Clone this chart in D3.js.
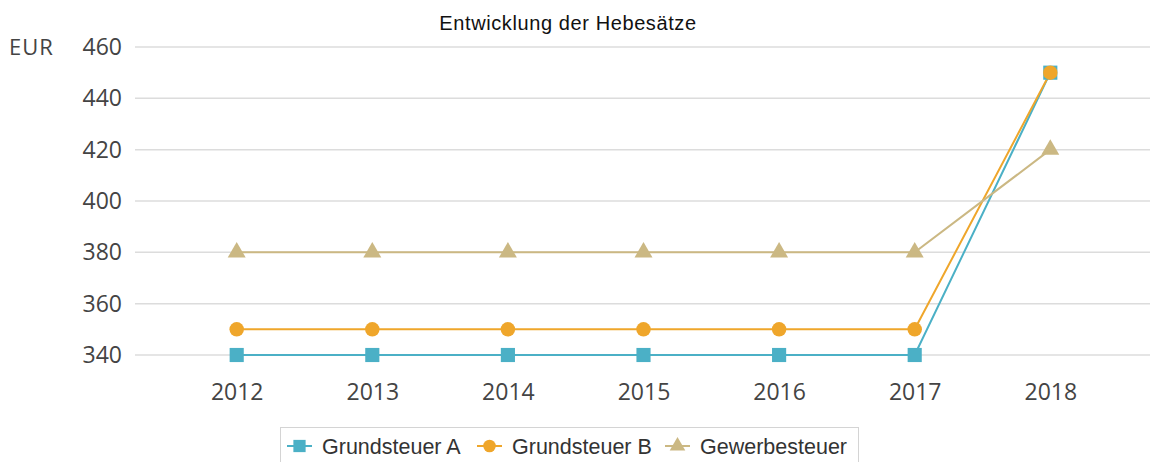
<!DOCTYPE html>
<html>
<head>
<meta charset="utf-8">
<script src="https://cdn.jsdelivr.net/npm/d3@7"></script>
<style>
  body { margin: 0; background: #fff; }
</style>
</head>
<body>
<script>
var years = ["2012", "2013", "2014", "2015", "2016", "2017", "2018"];
var grundsteuerA = [340, 340, 340, 340, 340, 340, 450];
var grundsteuerB = [350, 350, 350, 350, 350, 350, 450];
var gewerbesteuer = [380, 380, 380, 380, 380, 380, 420];
var yTicks = [340, 360, 380, 400, 420, 440, 460];

var width = 1152, height = 462;

var series = [
  {name: "Grundsteuer A", values: grundsteuerA, color: "#4BB0C6", symbol: d3.symbolSquare, size: 200},
  {name: "Grundsteuer B", values: grundsteuerB, color: "#EFA62B", symbol: d3.symbolCircle, size: 165},
  {name: "Gewerbesteuer", values: gewerbesteuer, color: "#CBB883", symbol: d3.symbolTriangle, size: 140}
];

var svg = d3.select("body").append("svg").attr("width", width).attr("height", height);

var x = d3.scalePoint().domain(years).range([135, 1152]).padding(0.75);
var y = d3.scaleLinear().domain([340, 460]).range([355, 47]);

// title
svg.append("text")
  .attr("x", 568).attr("y", 30)
  .attr("text-anchor", "middle")
  .style("font-family", "Liberation Sans, Arial, sans-serif")
  .style("font-size", "20px")
  .style("letter-spacing", "0.6px")
  .style("fill", "#111")
  .text("Entwicklung der Hebesätze");

// grid
svg.append("g").selectAll("line").data(yTicks).enter().append("line")
  .attr("x1", 135).attr("x2", 1150)
  .attr("y1", function(d) { return y(d); })
  .attr("y2", function(d) { return y(d); })
  .style("stroke", "#dcdcdc")
  .style("stroke-width", 1.5);

var yAxis = svg.append("g").attr("transform", "translate(122,0)")
  .call(d3.axisLeft(y).tickValues(yTicks).tickSize(0).tickPadding(0));
yAxis.select(".domain").remove();
yAxis.selectAll("text")
  .style("font-family", "Open Sans, sans-serif")
  .style("font-size", "23px")
  .style("fill", "#444");

var xAxis = svg.append("g").attr("transform", "translate(0,384)")
  .call(d3.axisBottom(x).tickSize(0).tickPadding(0));
xAxis.select(".domain").remove();
xAxis.selectAll("text")
  .style("font-family", "Open Sans, sans-serif")
  .style("font-size", "23px")
  .style("fill", "#444");

svg.append("text")
  .attr("x", 9).attr("y", 55)
  .style("font-family", "Open Sans, sans-serif")
  .style("font-size", "22px")
  .style("letter-spacing", "1px")
  .style("fill", "#444")
  .text("EUR");

var line = d3.line()
  .x(function(d, i) { return x(years[i]); })
  .y(function(d) { return y(d); });

series.forEach(function(s) {
  svg.append("path")
    .datum(s.values)
    .attr("d", line)
    .style("fill", "none")
    .style("stroke", s.color)
    .style("stroke-width", 2);
});

series.forEach(function(s) {
  svg.append("g").selectAll("path").data(s.values).enter().append("path")
    .attr("transform", function(d, i) { return "translate(" + x(years[i]) + "," + y(d) + ")"; })
    .attr("d", d3.symbol().type(s.symbol).size(s.size))
    .style("fill", s.color);
});

// legend
var legend = svg.append("g");
legend.append("rect")
  .attr("x", 280.5).attr("y", 427.5)
  .attr("width", 578).attr("height", 40)
  .style("fill", "#fff")
  .style("stroke", "#d4d4d4");

var legendX = [287, 477, 665];
series.forEach(function(s, i) {
  var g = legend.append("g").attr("transform", "translate(" + legendX[i] + ",446)");
  g.append("line").attr("x1", 0).attr("x2", 25)
    .style("stroke", s.color).style("stroke-width", 2);
  g.append("path").attr("transform", "translate(12.5,0)")
    .attr("d", d3.symbol().type(s.symbol).size(s.size * 0.75))
    .style("fill", s.color);
  g.append("text").attr("x", 35).attr("y", 7.5)
    .style("font-family", "Liberation Sans, Arial, sans-serif")
    .style("font-size", "21.5px")
    .style("fill", "#333")
    .text(s.name);
});
</script>
</body>
</html>
